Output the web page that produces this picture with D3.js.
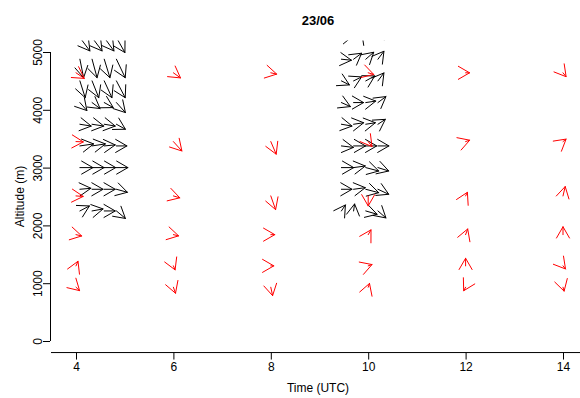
<!DOCTYPE html>
<html><head><meta charset="utf-8">
<script src="https://cdn.jsdelivr.net/npm/d3@7"></script>
<style>
html,body{margin:0;padding:0;background:#fff;}
text{font-family:"Liberation Sans",Arial,Helvetica,sans-serif;}
</style></head>
<body>
<svg id="chart" width="580" height="398"></svg>
<script>
// ---------- data ----------
const title = "23/06";
const xTicks = [4, 6, 8, 10, 12, 14];
const yTicks = [0, 1000, 2000, 3000, 4000, 5000];

// red arrows (hourly profiles): times, levels (m), wind components u,v (m/s) per time, levels top->bottom
const redTimes = [4, 6, 8, 10, 12, 14];
const redLevels = [4640, 3450, 2510, 1840, 1300, 930];
const redU = [
  [8.3, 7.3, 7.2, 5.7, 2.0, 3.6],
  [7.1, 8.5, 6.4, 5.2, 1.7, 2.1],
  [5.9, 5.4, 4.8, 4.0, 3.0, 1.8],
  [5.5, 3.8, 0.0, 2.8, 3.8, 1.3],
  [4.0, 4.1, 1.8, 2.1, 0.0, -1.9],
  [3.1, 3.1, 2.2, 0.0, 2.5, 1.1]
];
const redV = [
  [-5.6, -0.3, -0.5, -1.3, 4.6, -3.4],
  [-5.1, -9.4, -1.9, -1.2, -4.0, -6.0],
  [-1.3, -12.6, -13.7, 0.0, 0.0, -8.4],
  [-1.6, -5.0, -10.0, 4.8, 1.3, 3.8],
  [0.0, 1.4, 3.6, 5.7, 7.6, -3.5],
  [-3.9, 2.5, 9.4, 7.9, -3.1, -3.9]
];

// black arrows (15-min profiles): two groups of 4 times, levels bottom->top
const blackLevels = [2250, 2625, 3000, 3375, 3750, 4125, 4500, 4875, 5250];
const blackTimesA = [4.08, 4.33, 4.58, 4.83];
const blackUA = [
  [9.5, 11, 11, 9],
  [11, 11, 11, 11],
  [13, 12, 11.5, 11.5],
  [13.7, 13.3, 11, 10.5],
  [11.3, 11.7, 11, 9],
  [7, 8, 9, 9],
  [5.3, 6.7, 7.7, 8.8],
  [3.7, 5, 5.7, 8.8],
  [10, 10, 9.7, 8.5]
];
const blackVA = [
  [5, 2, 0, -7.5],
  [1, 0, 0, -3],
  [0, 0, 0, 0],
  [2, 2, 1, 0],
  [-1.8, -1.8, -1.8, -5],
  [-8, -6, -5, -10],
  [-16.8, -16.8, -16.8, -16.8],
  [-18.5, -18.5, -18.5, -18.5],
  [-13.4, -13.4, -13.4, -15]
];
const blackTimesB = [9.45, 9.7, 9.95, 10.2];
const blackUB = [
  [4, 1, 11.3, 8],
  [10.6, 11.7, 13, 10.8],
  [12.3, 11.7, 13, 10.8],
  [12, 12, 11, 11],
  [10.6, 10.1, 9.6, 7.4],
  [9, 10, 10, 8],
  [8, 8, 9, 6],
  [10, 8, 8, 6],
  [12, 1, -4, 2]
];
const blackVB = [
  [6, 7, -3.3, -7],
  [0, 1.6, -3.4, -5],
  [0, 1.6, -3.4, -3.4],
  [-1.5, 0, 0, 0],
  [-1.8, 1.5, 1.5, 4.9],
  [-4, 0, 1.5, 6],
  [-4, 4, 5, 8],
  [-1, 6, 7, 8],
  [2, 12, 5, 10]
];

// ---------- layout ----------
const svg = d3.select("#chart");
const x = d3.scaleLinear().domain([4, 14]).range([76, 563]);
const y = d3.scaleLinear().domain([0, 5000]).range([341, 52]);
const w = d3.scaleLinear().domain([0, 1]).range([0, 1]); // px per m/s
const plotTop = y(5200), plotBottom = y(-200);
const plotLeft = 50, plotRight = 586;
const headLen = 13, headAng = Math.PI / 6;

svg.append("defs").append("clipPath").attr("id", "clip")
  .append("rect").attr("x", plotLeft).attr("y", plotTop)
  .attr("width", plotRight - plotLeft).attr("height", plotBottom - plotTop);

const plot = svg.append("g").attr("clip-path", "url(#clip)");

function arrowPath(t, z, u, v) {
  const x0 = x(t), y0 = y(z);
  const x1 = x0 + w(u), y1 = y0 - w(v);
  const a = Math.atan2(y1 - y0, x1 - x0);
  const p = d3.path();
  p.moveTo(x0, y0); p.lineTo(x1, y1);
  p.moveTo(x1 + headLen * Math.cos(a + Math.PI - headAng), y1 + headLen * Math.sin(a + Math.PI - headAng));
  p.lineTo(x1, y1);
  p.lineTo(x1 + headLen * Math.cos(a + Math.PI + headAng), y1 + headLen * Math.sin(a + Math.PI + headAng));
  return p.toString();
}

function blackData(times, U, V) {
  const out = [];
  blackLevels.forEach((z, i) => times.forEach((t, j) => out.push({t, z, u: U[i][j], v: V[i][j]})));
  return out;
}
const blacks = blackData(blackTimesA, blackUA, blackVA).concat(blackData(blackTimesB, blackUB, blackVB));
const reds = [];
redTimes.forEach((t, i) => redLevels.forEach((z, j) => reds.push({t, z, u: redU[i][j], v: redV[i][j]})));

plot.selectAll("path.black").data(blacks).join("path").attr("class", "black")
  .attr("d", d => arrowPath(d.t, d.z, d.u, d.v))
  .attr("fill", "none").attr("stroke", "#000").attr("stroke-width", 1)
  .attr("stroke-linecap", "round").attr("stroke-linejoin", "round");

plot.selectAll("path.red").data(reds).join("path").attr("class", "red")
  .attr("d", d => arrowPath(d.t, d.z, d.u, d.v))
  .attr("fill", "none").attr("stroke", "#ff0000").attr("stroke-width", 1)
  .attr("stroke-linecap", "round").attr("stroke-linejoin", "round");

// ---------- axes ----------
const xAxisG = svg.append("g").attr("transform", `translate(0,${plotBottom})`)
  .call(d3.axisBottom(x).tickValues(xTicks).tickSize(7).tickSizeOuter(0).tickFormat(d3.format("d")));
xAxisG.select(".domain").remove();
xAxisG.append("line").attr("x1", 51).attr("x2", 580).attr("y1", 0).attr("y2", 0)
  .attr("stroke", "#000");
xAxisG.selectAll("text").attr("font-size", 12).attr("fill", "#000")
  .attr("font-family", "Liberation Sans, Arial, sans-serif");

const yAxisG = svg.append("g").attr("transform", `translate(${plotLeft},0)`)
  .call(d3.axisLeft(y).tickValues(yTicks).tickSize(7).tickSizeOuter(0).tickFormat(d3.format("d")));
yAxisG.select(".domain").attr("d", `M0.5,${y(0)}V${y(5000)}`).attr("stroke", "#000");
yAxisG.selectAll(".tick line").attr("stroke", "#000");
xAxisG.selectAll(".tick line").attr("stroke", "#000");
yAxisG.selectAll("text")
  .attr("transform", "rotate(-90)").attr("x", 0).attr("y", -8).attr("dy", 0)
  .attr("text-anchor", "middle").attr("font-size", 12).attr("fill", "#000")
  .attr("font-family", "Liberation Sans, Arial, sans-serif");

svg.append("text").attr("x", (plotLeft + plotRight) / 2).attr("y", 392)
  .attr("text-anchor", "middle").attr("font-size", 12).text("Time (UTC)");
svg.append("text").attr("transform", `translate(24,${(plotTop + plotBottom) / 2}) rotate(-90)`)
  .attr("text-anchor", "middle").attr("font-size", 12).text("Altitude (m)");
svg.append("text").attr("x", (plotLeft + plotRight) / 2).attr("y", 24.5)
  .attr("text-anchor", "middle").attr("font-size", 13).attr("font-weight", "bold").text(title);
</script>
</body></html>
